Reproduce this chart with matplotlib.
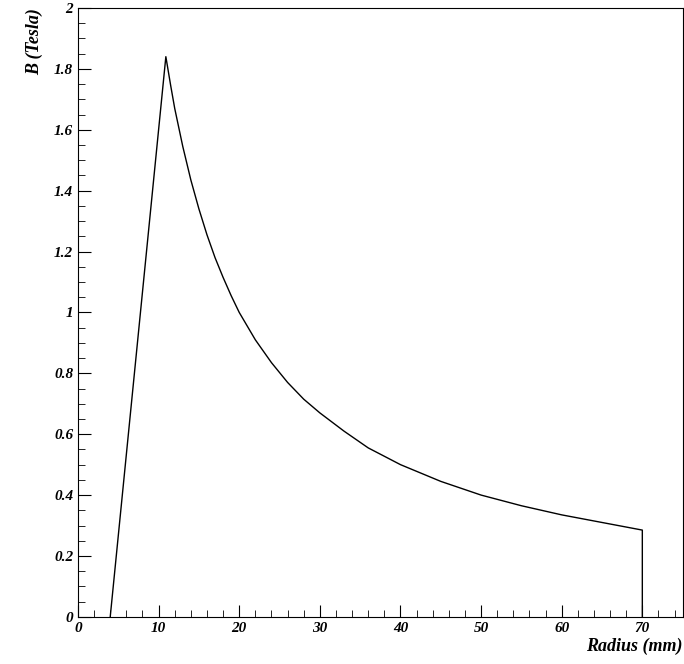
import matplotlib.pyplot as plt
from matplotlib.ticker import MultipleLocator

radius = [4, 10.9, 11.5, 12, 13, 14, 15, 16, 17, 18, 19, 20, 22, 24, 26, 28, 30,
          33, 36, 40, 45, 50, 55, 60, 65, 70, 70]
field = [0, 1.84, 1.745, 1.67, 1.545, 1.435, 1.34, 1.255, 1.18, 1.115, 1.055, 1.0,
         0.91, 0.835, 0.77, 0.715, 0.67, 0.61, 0.555, 0.50, 0.445, 0.40, 0.365,
         0.335, 0.31, 0.285, 0]

font = {'family': 'Liberation Serif', 'weight': 'bold', 'style': 'italic'}

fig = plt.figure(figsize=(6.84, 6.64), dpi=100)
ax = fig.add_axes([0.114, 0.071, 0.884, 0.917])
ax.plot(radius, field, color='black', lw=1)
ax.set_xlim(0, 75)
ax.set_ylim(0, 2)
ax.xaxis.set_major_locator(MultipleLocator(10))
ax.xaxis.set_minor_locator(MultipleLocator(2))
ax.yaxis.set_major_locator(MultipleLocator(0.2))
ax.yaxis.set_minor_locator(MultipleLocator(0.05))
ax.tick_params(which='both', direction='in', top=False, right=False)
ax.tick_params(which='major', length=9)
ax.tick_params(which='minor', length=5)
ax.set_xticks([0, 10, 20, 30, 40, 50, 60, 70])
ax.set_xticklabels(['0', '10', '20', '30', '40', '50', '60', '70'], fontdict=font, fontsize=11)
yt = [0, 0.2, 0.4, 0.6, 0.8, 1, 1.2, 1.4, 1.6, 1.8, 2]
ax.set_yticks(yt)
ax.set_yticklabels([('%g' % v) for v in yt], fontdict=font, fontsize=11)
ax.set_xlabel('Radius (mm)', fontdict=font, fontsize=13, loc='right', labelpad=2)
ax.set_ylabel('B (Tesla)', fontdict=font, fontsize=13, loc='top', labelpad=8)
fig.savefig('out.png')
